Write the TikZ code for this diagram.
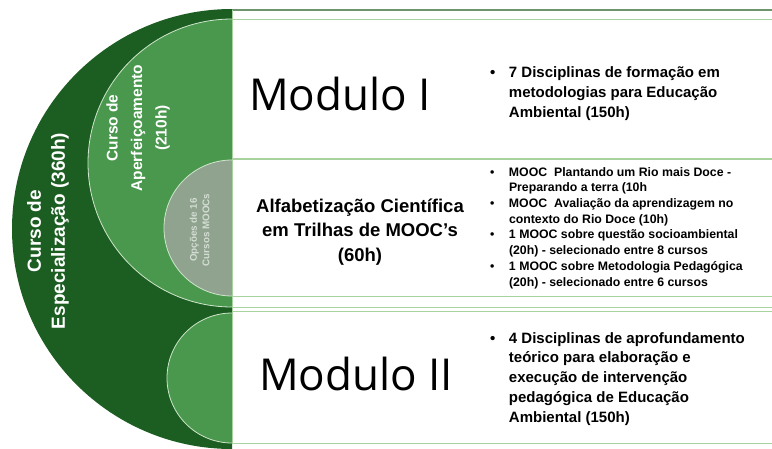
\documentclass[tikz,border=0pt]{standalone}
\usepackage{fontspec}
\setmainfont{Liberation Sans}
\newfontfamily\modfont{Open Sans}
\definecolor{dkgreen}{HTML}{1C5E22}
\definecolor{mdgreen}{HTML}{4A984D}
\definecolor{grgreen}{HTML}{8FA38F}
\definecolor{rowgreen}{HTML}{A9D39E}
\definecolor{topline}{HTML}{6E956E}
\definecolor{ringline}{HTML}{CFE6CC}
\definecolor{mooctext}{HTML}{D3DDD3}
\tikzset{
  rowline/.style={draw=rowgreen, line width=1.1pt},
  ring/.style={draw=ringline, line width=0.8pt},
  vlabel/.style={rotate=90, text=white, align=center, inner sep=0pt},
  bigmod/.style={font=\modfont\fontsize{44}{44}\selectfont, anchor=base, inner sep=0pt},
  blist/.style={anchor=north west, inner sep=0pt, align=left},
}
\begin{document}
\begin{tikzpicture}[x=1pt,y=-1pt]
\useasboundingbox (0,0) rectangle (772,448);
\fill[white] (0,0) rectangle (772,448);
% left semicircles
\begin{scope}
  \clip (0,0) rectangle (232,448);
  \fill[dkgreen] (232,229) circle[radius=220];
  \fill[mdgreen] (232,163) circle[radius=144];
  \draw[ring] (232,163) circle[radius=144];
  \fill[grgreen] (232,228) circle[radius=68];
  \draw[ring] (232,228) circle[radius=68];
  \fill[mdgreen] (232,378) circle[radius=65];
  \draw[ring] (232,378) circle[radius=65];
\end{scope}
% right rows
\draw[draw=topline, line width=1.1pt] (232,10) -- (772,10);
\draw[rowline] (232,19.5) -- (772,19.5);
\draw[rowline] (232,159) -- (772,159);
\draw[rowline] (232,296.5) -- (772,296.5);
\draw[rowline] (232,307.5) -- (772,307.5);
\draw[rowline] (232,311.5) -- (772,311.5);
\draw[rowline] (232,443.5) -- (772,443.5);
\draw[draw=rowgreen, line width=0.9pt] (232.5,10) -- (232.5,443.5);
% vertical labels
\node[vlabel, font=\bfseries\fontsize{19}{24}\selectfont] (esp) at (48,231) {Curso de\\Especialização (360h)};
\node[vlabel, font=\bfseries\fontsize{15.5}{24.5}\selectfont] (aper) at (138,128) {Curso de\\Aperfeiçoamento\\(210h)};
\node[vlabel, text=mooctext, font=\bfseries\fontsize{9.8}{12.5}\selectfont] (opc) at (199.5,230) {Opções de 16\\Cursos MOOCs};
% modules
\node[bigmod] (m1) at (340,110) {Modulo I};
\node[bigmod] (m2) at (356,390) {Modulo II};
\node[align=center, inner sep=0pt, font=\bfseries\fontsize{18.5}{24.5}\selectfont] (alf) at (360,232) {Alfabetização Científica\\em Trilhas de MOOC’s\\(60h)};
% bullet lists
\node[blist, font=\bfseries\fontsize{15}{20}\selectfont] (b1) at (490,63)
 {\begin{tabular}{@{}l@{\hspace{13.5pt}}l@{}}
 \textbullet & 7 Disciplinas de formação em\\
 & metodologias para Educação\\
 & Ambiental (150h)
 \end{tabular}};
\node[blist, font=\bfseries\fontsize{12.3}{15.7}\selectfont] (b2) at (490,165)
 {\begin{tabular}{@{}l@{\hspace{14.5pt}}l@{}}
 \textbullet & MOOC\ \ Plantando um Rio mais Doce -\\
 & Preparando a terra (10h\\
 \textbullet & MOOC\ \ Avaliação da aprendizagem no\\
 & contexto do Rio Doce (10h)\\
 \textbullet & 1 MOOC sobre questão socioambiental\\
 & (20h) - selecionado entre 8 cursos\\
 \textbullet & 1 MOOC sobre Metodologia Pedagógica\\
 & (20h) - selecionado entre 6 cursos
 \end{tabular}};
\node[blist, font=\bfseries\fontsize{15}{19.8}\selectfont] (b3) at (490,329)
 {\begin{tabular}{@{}l@{\hspace{13.5pt}}l@{}}
 \textbullet & 4 Disciplinas de aprofundamento\\
 & teórico para elaboração e\\
 & execução de intervenção\\
 & pedagógica de Educação\\
 & Ambiental (150h)
 \end{tabular}};
\end{tikzpicture}
\end{document}
